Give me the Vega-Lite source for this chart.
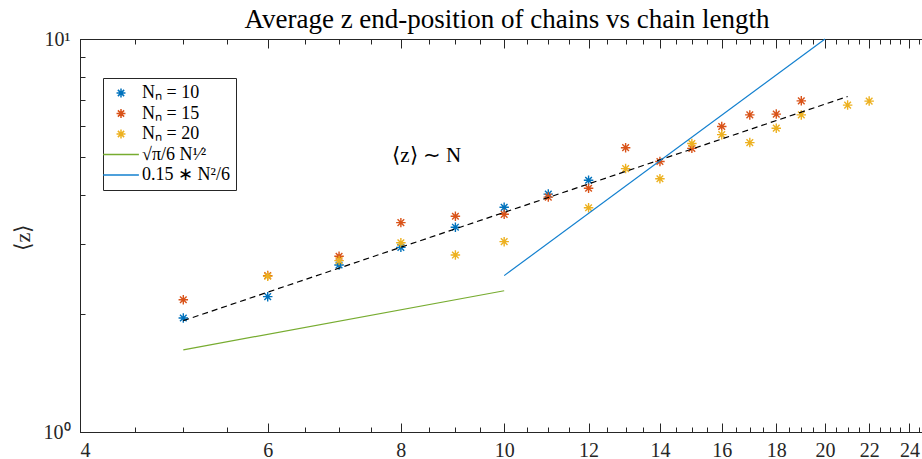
{
  "$schema": "https://vega.github.io/schema/vega-lite/v6.json",
  "width": 842,
  "height": 393,
  "autosize": "none",
  "padding": {"left": 80, "top": 39, "right": 0, "bottom": 27},
  "background": "white",
  "title": {"text": "Average z end-position of chains vs chain length", "font": "Liberation Serif", "fontSize": 27, "fontWeight": "normal", "color": "black", "offset": 4, "anchor": "middle", "dx": 6, "dy": 9},
  "config": {
    "view": {"stroke": null},
    "axis": {"grid": false, "domainColor": "#262626", "tickColor": "#262626", "labelColor": "#262626", "labelFont": "Liberation Serif", "labelFontSize": 20, "titleFont": "Liberation Serif", "titleColor": "#262626", "domainWidth": 1, "tickWidth": 1}
  },
  "datasets": {
    "pts": [
      {"series": "Nₙ = 10", "N": 5, "z": 1.95},
      {"series": "Nₙ = 10", "N": 6, "z": 2.21},
      {"series": "Nₙ = 10", "N": 7, "z": 2.66},
      {"series": "Nₙ = 10", "N": 8, "z": 2.95},
      {"series": "Nₙ = 10", "N": 9, "z": 3.32},
      {"series": "Nₙ = 10", "N": 10, "z": 3.73},
      {"series": "Nₙ = 10", "N": 11, "z": 4.03},
      {"series": "Nₙ = 10", "N": 12, "z": 4.37},
      {"series": "Nₙ = 15", "N": 5, "z": 2.17},
      {"series": "Nₙ = 15", "N": 6, "z": 2.5},
      {"series": "Nₙ = 15", "N": 7, "z": 2.8},
      {"series": "Nₙ = 15", "N": 8, "z": 3.41},
      {"series": "Nₙ = 15", "N": 9, "z": 3.54},
      {"series": "Nₙ = 15", "N": 10, "z": 3.58},
      {"series": "Nₙ = 15", "N": 11, "z": 3.96},
      {"series": "Nₙ = 15", "N": 12, "z": 4.17},
      {"series": "Nₙ = 15", "N": 13, "z": 5.29},
      {"series": "Nₙ = 15", "N": 14, "z": 4.88},
      {"series": "Nₙ = 15", "N": 15, "z": 5.27},
      {"series": "Nₙ = 15", "N": 16, "z": 5.99},
      {"series": "Nₙ = 15", "N": 17, "z": 6.41},
      {"series": "Nₙ = 15", "N": 18, "z": 6.44},
      {"series": "Nₙ = 15", "N": 19, "z": 6.96},
      {"series": "Nₙ = 20", "N": 6, "z": 2.49},
      {"series": "Nₙ = 20", "N": 7, "z": 2.73},
      {"series": "Nₙ = 20", "N": 8, "z": 3.03},
      {"series": "Nₙ = 20", "N": 9, "z": 2.82},
      {"series": "Nₙ = 20", "N": 10, "z": 3.05},
      {"series": "Nₙ = 20", "N": 12, "z": 3.72},
      {"series": "Nₙ = 20", "N": 13, "z": 4.68},
      {"series": "Nₙ = 20", "N": 14, "z": 4.41},
      {"series": "Nₙ = 20", "N": 15, "z": 5.42},
      {"series": "Nₙ = 20", "N": 16, "z": 5.71},
      {"series": "Nₙ = 20", "N": 17, "z": 5.45},
      {"series": "Nₙ = 20", "N": 18, "z": 5.93},
      {"series": "Nₙ = 20", "N": 19, "z": 6.41},
      {"series": "Nₙ = 20", "N": 21, "z": 6.79},
      {"series": "Nₙ = 20", "N": 22, "z": 6.95}
    ],
    "fit": [
      {"N": 5, "z": 1.92},
      {"N": 21, "z": 7.14}
    ],
    "green": [
      {"series": "√π/6 N¹⁄²", "N": 5, "z": 1.618},
      {"series": "√π/6 N¹⁄²", "N": 10, "z": 2.288}
    ],
    "blue": [
      {"series": "0.15 ∗ N²/6", "N": 10, "z": 2.5},
      {"series": "0.15 ∗ N²/6", "N": 20, "z": 10}
    ],
    "ann": [
      {"label": "⟨z⟩ ∼ N", "N": 8.46, "z": 5.03}
    ]
  },
  "layer": [
    {
      "data": {"name": "pts"},
      "mark": {"type": "point", "filled": false, "strokeWidth": 1.4, "size": 90, "opacity": 1},
      "encoding": {
        "x": {"field": "N", "type": "quantitative", "scale": {"type": "log", "domain": [4, 24.66], "nice": false},
          "axis": {"orient": "bottom", "values": [4, 6, 8, 10, 12, 14, 16, 18, 20, 22, 24], "tickSize": -9, "labelPadding": 17, "labelExpr": "format(datum.value, 'd')", "title": null}},
        "y": {"field": "z", "type": "quantitative", "scale": {"type": "log", "domain": [1, 10], "nice": false},
          "axis": {"orient": "left", "values": [1, 10], "tickSize": -9, "labelPadding": 19, "labelExpr": "datum.value == 1 ? '10⁰' : '10¹'", "title": "⟨z⟩", "titleFontSize": 22, "titleFontWeight": "normal", "titleX": -58, "titleY": 198, "titleAlign": "center", "titleBaseline": "middle", "titleAngle": -90}},
        "color": {"field": "series", "type": "nominal",
          "scale": {"domain": ["Nₙ = 10", "Nₙ = 15", "Nₙ = 20", "√π/6 N¹⁄²", "0.15 ∗ N²/6"], "range": ["#0072BD", "#D95319", "#EDB120", "#77AC30", "#1380cf"]},
          "legend": {"orient": "none", "legendX": 23, "legendY": 39, "title": null, "strokeColor": "#262626", "fillColor": "white", "padding": 6, "labelFont": "Liberation Serif", "labelFontSize": 18, "labelColor": "black", "symbolSize": 80, "symbolStrokeWidth": 1.5, "symbolOffset": 3, "labelOffset": 12, "rowPadding": 2.5}},
        "shape": {"field": "series", "type": "nominal",
          "scale": {"domain": ["Nₙ = 10", "Nₙ = 15", "Nₙ = 20", "√π/6 N¹⁄²", "0.15 ∗ N²/6"], "range": ["M-1,0H1M0,-1V1M-0.7,-0.7L0.7,0.7M-0.7,0.7L0.7,-0.7", "M-1,0H1M0,-1V1M-0.7,-0.7L0.7,0.7M-0.7,0.7L0.7,-0.7", "M-1,0H1M0,-1V1M-0.7,-0.7L0.7,0.7M-0.7,0.7L0.7,-0.7", "M-4,0H4", "M-4,0H4"]}}
      }
    },
    {
      "data": {"name": "fit"},
      "mark": {"type": "line", "color": "black", "strokeDash": [6, 4], "strokeWidth": 1.2},
      "encoding": {
        "x": {"field": "N", "type": "quantitative",
          "axis": {"orient": "bottom", "values": [4.5, 5, 5.5, 6.5, 7, 7.5, 8.5, 9, 9.5, 10.5, 11, 11.5, 12.5, 13, 13.5, 14.5, 15, 15.5, 16.5, 17, 17.5, 18.5, 19, 19.5, 20.5, 21, 21.5, 22.5, 23, 23.5, 24.5], "tickSize": -5, "labels": false, "title": null}},
        "y": {"field": "z", "type": "quantitative",
          "axis": {"orient": "left", "values": [2, 3, 4, 5, 6, 7, 8, 9], "tickSize": -5, "labels": false, "title": null}}
      }
    },
    {
      "data": {"name": "green"},
      "mark": {"type": "line", "strokeWidth": 1.2},
      "encoding": {
        "x": {"field": "N", "type": "quantitative",
          "axis": {"orient": "top", "values": [4, 6, 8, 10, 12, 14, 16, 18, 20, 22, 24], "tickSize": -9, "labels": false, "title": null}},
        "y": {"field": "z", "type": "quantitative", "axis": null},
        "color": {"field": "series", "type": "nominal"}
      }
    },
    {
      "data": {"name": "blue"},
      "mark": {"type": "line", "strokeWidth": 1.2},
      "encoding": {
        "x": {"field": "N", "type": "quantitative",
          "axis": {"orient": "top", "values": [4.5, 5, 5.5, 6.5, 7, 7.5, 8.5, 9, 9.5, 10.5, 11, 11.5, 12.5, 13, 13.5, 14.5, 15, 15.5, 16.5, 17, 17.5, 18.5, 19, 19.5, 20.5, 21, 21.5, 22.5, 23, 23.5, 24.5], "tickSize": -5, "labels": false, "title": null}},
        "y": {"field": "z", "type": "quantitative", "axis": null},
        "color": {"field": "series", "type": "nominal"}
      }
    },
    {
      "data": {"name": "ann"},
      "mark": {"type": "text", "font": "Liberation Serif", "fontSize": 21, "color": "black", "align": "center", "baseline": "middle"},
      "encoding": {
        "x": {"field": "N", "type": "quantitative", "axis": null},
        "y": {"field": "z", "type": "quantitative", "axis": null},
        "text": {"field": "label"}
      }
    }
  ],
  "resolve": {"axis": {"x": "independent", "y": "independent"}}
}
